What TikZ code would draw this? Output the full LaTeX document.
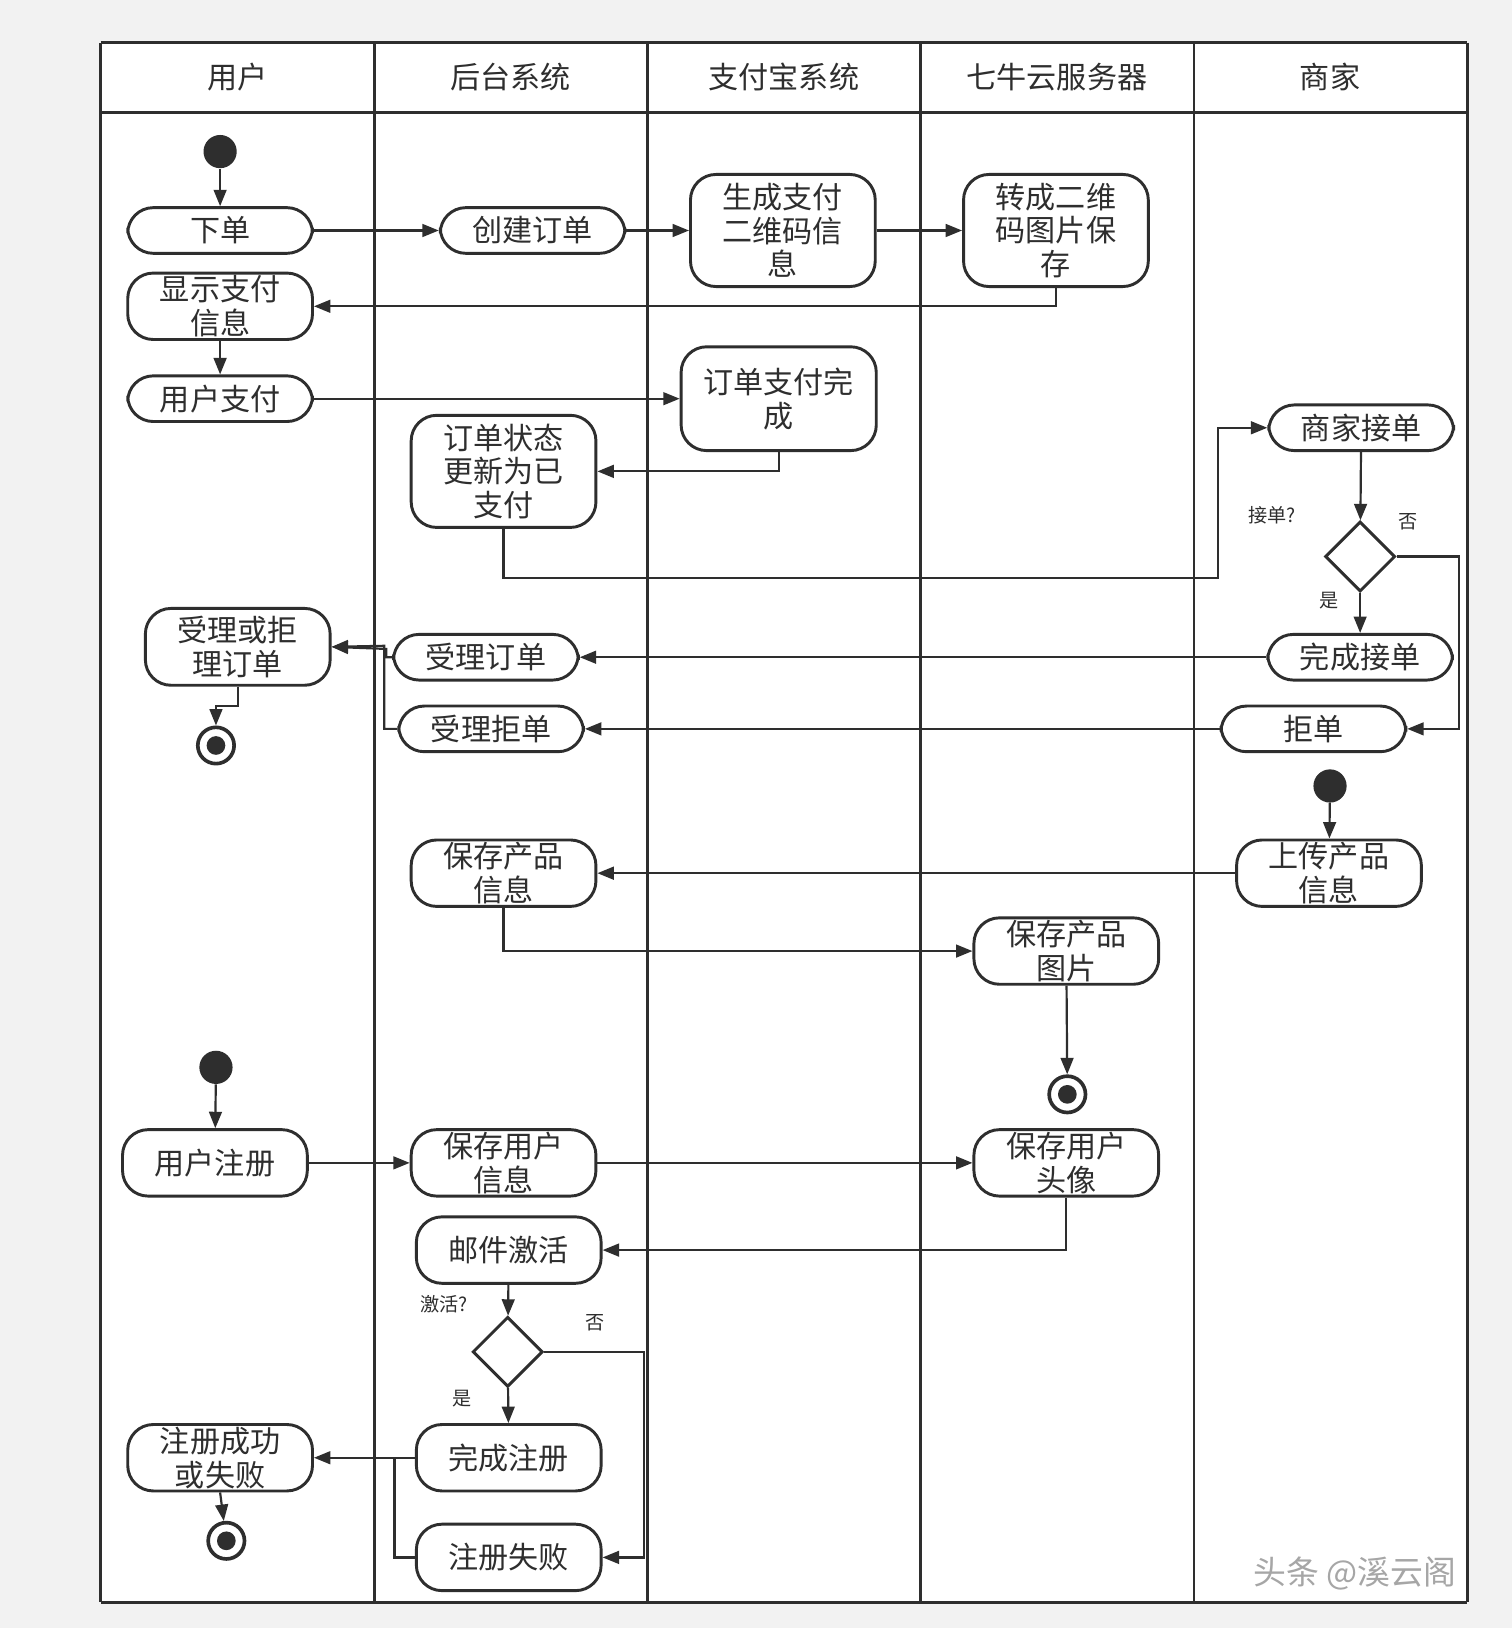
\documentclass[tikz,border=0pt]{standalone}
\usepackage{fontspec}
\setmainfont{Noto Sans CJK SC}
\usetikzlibrary{arrows.meta,shapes.geometric,calc}
\definecolor{ink}{HTML}{2E2E2E}
\begin{document}
\begin{tikzpicture}[x=0.02cm,y=-0.02cm,
  box/.style={draw=ink,line width=1.6pt,rounded corners=14pt,fill=white,minimum width=3.56cm,align=center,font=\fontsize{16.5}{18.5}\selectfont,inner sep=1pt,text=ink},
  dia/.style={draw=ink,line width=1.6pt,diamond,fill=white,minimum size=1.35cm,inner sep=0pt},
  startn/.style={circle,fill=ink,minimum size=0.64cm,inner sep=0pt},
  endn/.style={circle,draw=ink,line width=2pt,fill=white,minimum size=0.7cm,inner sep=0pt},
  arr/.style={draw=ink,line width=1.2pt,-{Triangle[length=9pt,width=7pt]}},
  ln/.style={draw=ink,line width=1.2pt},
  hd/.style={font=\fontsize{16.5}{19}\selectfont,text=ink},
  lab/.style={font=\fontsize{10.5}{12}\selectfont,text=ink}]
\fill[white!95!black] (0,0) rectangle (1456,1568);
\useasboundingbox (0,0) rectangle (1456,1568);
\fill[white] (97,41) rectangle (1413,1543);
\foreach \x in {97,361,624,887,1150,1413}{\draw[ink,line width=1.6pt] (\x,41) -- (\x,1543);}
\draw[ink,line width=1.6pt] (97,41) -- (1413,41) (97,108) -- (1413,108) (97,1543) -- (1413,1543);
\node[hd] (h1) at (229,74) {用户};
\node[hd] (h2) at (492,74) {后台系统};
\node[hd] (h3) at (755,74) {支付宝系统};
\node[hd] (h4) at (1018,74) {七牛云服务器};
\node[hd] (h5) at (1281,74) {商家};
% nodes
\node[startn] (s1) at (212,146) {};
\node[box,minimum height=0.88cm] (xd) at (212,222) {下单};
\node[box,minimum height=0.88cm] (cj) at (513,222) {创建订单};
\node[box,minimum height=2.16cm] (sc) at (754,222) {生成支付\\二维码信\\息};
\node[box,minimum height=2.16cm] (zc) at (1017,222) {转成二维\\码图片保\\存};
\node[box,minimum height=1.28cm] (xs) at (212,295) {显示支付\\信息};
\node[box,minimum height=0.88cm] (zf) at (212,384) {用户支付};
\node[box,minimum height=2cm,minimum width=3.76cm] (wc) at (750,384) {订单支付完\\成};
\node[box,minimum height=2.16cm] (zt) at (485,454) {订单状态\\更新为已\\支付};
\node[box,minimum height=0.88cm] (sj) at (1311,412) {商家接单};
\node[dia] (d1) at (1310,536) {};
\node[box,minimum height=0.88cm] (wj) at (1310,633) {完成接单};
\node[box,minimum height=0.88cm] (jd) at (1265,702) {拒单};
\node[box,minimum height=1.48cm] (sl) at (229,623) {受理或拒\\理订单};
\node[endn] (e1) at (208,718) {};
\node[box,minimum height=0.88cm] (sd) at (468,633) {受理订单};
\node[box,minimum height=0.88cm] (sjd) at (473,702) {受理拒单};
\node[startn] (s2) at (1281,757) {};
\node[box,minimum height=1.28cm] (shc) at (1280,841) {上传产品\\信息};
\node[box,minimum height=1.28cm] (bc) at (485,841) {保存产品\\信息};
\node[box,minimum height=1.28cm] (bt) at (1027,916) {保存产品\\图片};
\node[endn] (e2) at (1028,1054) {};
\node[startn] (s3) at (208,1028) {};
\node[box,minimum height=1.28cm] (zh) at (207,1120) {用户注册};
\node[box,minimum height=1.28cm] (by) at (485,1120) {保存用户\\信息};
\node[box,minimum height=1.28cm] (tx) at (1027,1120) {保存用户\\头像};
\node[box,minimum height=1.28cm] (yj) at (490,1204) {邮件激活};
\node[dia] (d2) at (489,1302) {};
\node[box,minimum height=1.28cm] (wz) at (490,1404) {完成注册};
\node[box,minimum height=1.28cm] (zs) at (490,1500) {注册失败};
\node[box,minimum height=1.28cm] (zcg) at (212,1404) {注册成功\\或失败};
\node[endn] (e3) at (218,1484) {};
\foreach \e in {e1,e2,e3}{\fill[ink] (\e) circle (0.18cm);}
% labels
\node[lab] (l1) at (1225,496) {接单?};
\node[lab] (l2) at (1356,503) {否};
\node[lab] (l3) at (1280,578) {是};
\node[lab] (l4) at (428,1256) {激活?};
\node[lab] (l5) at (573,1274) {否};
\node[lab] (l6) at (445,1347) {是};
\node[text=gray!70,font=\fontsize{18}{20}\selectfont] (wm) at (1305,1515) {头条 @溪云阁};
% edges
\draw[arr] (s1) -- (xd);
\draw[arr] (xd) -- (cj);
\draw[arr] (cj) -- (sc);
\draw[arr] (sc) -- (zc);
\draw[arr] (zc.south) |- (xs.east);
\draw[arr] (xs) -- (zf);
\draw[arr] (zf.east) -- (wc.west |- zf.east);
\draw[arr] (wc.south) |- (zt.east);
\draw[arr] (zt.south) |- (1173,557) -- (1173,412) -- (sj.west);
\draw[arr] (sj) -- (d1);
\draw[arr] (d1) -- (wj);
\draw[arr] (d1.east) -- (1405,536) |- (jd.east);
\draw[arr] (wj.west) -- (sd.east |- wj.west);
\draw[arr] (jd.west) -- (sjd.east);
\draw[arr] (sd.west) -- (372,633) -- (372,625) -- (sl.east);
\draw[arr] (sjd.west) -- (370,702) -- (370,622) -- (sl.east);
\draw[arr] (sl.south) -- (229,680) -- (208,680) -- (e1);
\draw[arr] (s2) -- (shc);
\draw[arr] (shc.west) -- (bc.east);
\draw[arr] (bc.south) |- (bt.west);
\draw[arr] (bt) -- (e2);
\draw[arr] (s3) -- (zh);
\draw[arr] (zh) -- (by);
\draw[arr] (by) -- (tx);
\draw[arr] (tx.south) |- (yj.east);
\draw[arr] (yj) -- (d2);
\draw[arr] (d2) -- (wz);
\draw[arr] (d2.east) -- (620,1302) |- (zs.east);
\draw[arr] (wz.west) -- (zcg.east);
\draw[ln] (zs.west) -| (380,1404);
\draw[arr] (zcg.south) -- (e3);
\end{tikzpicture}
\end{document}
